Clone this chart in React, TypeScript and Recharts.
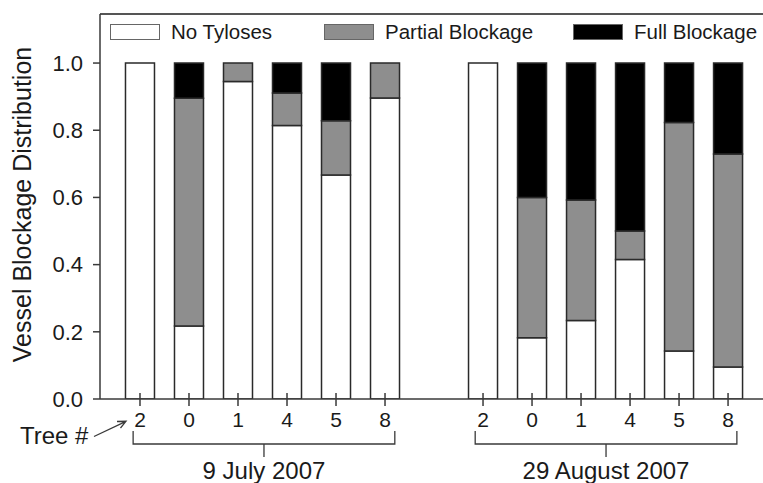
import React from 'react';
import { BarChart, Bar, XAxis, YAxis, ReferenceLine, Legend } from 'recharts';

// Tree numbers, in plotting order (two sampling dates, six trees each)
const treeNumbers = ['2', '0', '1', '4', '5', '8', '2', '0', '1', '4', '5', '8'];
// Slot of each bar on the numeric x axis (slot 7 left empty between dates)
const slotPositions = [1, 2, 3, 4, 5, 6, 8, 9, 10, 11, 12, 13];

// Fraction of vessels in each blockage class
const noTyloses = [1.0, 0.217, 0.945, 0.814, 0.667, 0.896, 1.0, 0.182, 0.234, 0.415, 0.143, 0.095];
const partialBlockage = [0, 0.678, 0.055, 0.097, 0.161, 0.104, 0, 0.418, 0.358, 0.085, 0.68, 0.634];
const fullBlockage = [0, 0.105, 0, 0.089, 0.172, 0, 0, 0.4, 0.408, 0.5, 0.177, 0.271];

// Sampling dates and the centre of each date's bracket on the x axis
const dateLabels = ['9 July 2007', '29 August 2007'];
const dateCenters = [3.53, 10.51];
const yTicks = [0, 0.2, 0.4, 0.6, 0.8, 1.0];

const data = slotPositions.map((pos, i) => ({
  pos,
  tree: treeNumbers[i],
  none: noTyloses[i],
  partial: partialBlockage[i],
  full: fullBlockage[i],
}));

const X_DOMAIN: [number, number] = [0.184, 14.06];
const Y_MAX = 1.146;
const BRACKET_HALF = 2.67;

const TREE_AXIS = 0;
const DATE_AXIS = 1;

const FONT = '"Liberation Sans", Arial, sans-serif';
const TEXT = '#1a1a1a';
const AXIS = '#3a3a3a';
const OUTLINE = '#2a2a2a';

const TreeTick = (props: any) => {
  const { x, y, payload, index } = props;
  const row = data.find((d) => d.pos === payload.value);
  return (
    <g>
      <line x1={x} x2={x} y1={y - 6} y2={y + 7} stroke={AXIS} strokeWidth={1.5} />
      <text x={x} y={y + 28} textAnchor="middle" fontSize={21} fill={TEXT} fontFamily={FONT}>
        {row ? row.tree : ''}
      </text>
      {index === 0 && (
        <g>
          <text x={x - 120} y={y + 45} fontSize={24} fill={TEXT} fontFamily={FONT}>
            Tree #
          </text>
          <path
            d={`M ${x - 46} ${y + 37.5} L ${x - 14} ${y + 22.3} M ${x - 23} ${y + 22.5} L ${x - 14} ${y + 22.3} L ${x - 19.5} ${y + 29}`}
            fill="none"
            stroke={AXIS}
            strokeWidth={1.3}
          />
        </g>
      )}
    </g>
  );
};

const DateTick = (props: any) => {
  const { x, y, index, width } = props;
  const pxPerUnit = (typeof width === 'number' && width > 0 ? width : 680) / (X_DOMAIN[1] - X_DOMAIN[0]);
  const half = BRACKET_HALF * pxPerUnit;
  return (
    <g>
      <path
        d={`M ${x - half} ${y - 8} L ${x - half} ${y + 5} L ${x + half} ${y + 5} L ${x + half} ${y - 8} M ${x} ${y + 5} L ${x} ${y + 18}`}
        fill="none"
        stroke={AXIS}
        strokeWidth={1.3}
      />
      <text x={x} y={y + 40} textAnchor="middle" fontSize={24} fill={TEXT} fontFamily={FONT}>
        {dateLabels[index]}
      </text>
    </g>
  );
};

const YTitle = (props: any) => {
  const vb = props.viewBox || { x: 0, y: 14, width: 100, height: 385 };
  const cx = vb.x + 22;
  const cy = vb.y + vb.height / 2 - 2;
  return (
    <text
      x={cx}
      y={cy}
      transform={`rotate(-90 ${cx} ${cy})`}
      textAnchor="middle"
      dominantBaseline="central"
      fontSize={25}
      fill={TEXT}
      fontFamily={FONT}
    >
      Vessel Blockage Distribution
    </text>
  );
};

const legendLeft: Record<string, number> = { none: 110, partial: 324, full: 573 };

const LegendContent = (props: any) => {
  const payload = props.payload || [];
  return (
    <div style={{ position: 'relative', width: 0, height: 0 }}>
      {payload.map((entry: any) => {
        const left = legendLeft[entry.dataKey] ?? 0;
        return (
          <React.Fragment key={entry.dataKey}>
            <div
              style={{
                position: 'absolute',
                left,
                top: 23.5,
                width: 49.5,
                height: 16.5,
                boxSizing: 'border-box',
                background: entry.color,
                border: '1.5px solid #666',
              }}
            />
            <span
              style={{
                position: 'absolute',
                left: left + 61,
                top: 22,
                whiteSpace: 'nowrap',
                fontFamily: FONT,
                fontSize: 20.5,
                lineHeight: 1,
                color: TEXT,
              }}
            >
              {entry.value}
            </span>
          </React.Fragment>
        );
      })}
    </div>
  );
};

export default function App() {
  return (
    <div style={{ position: 'absolute', left: 0, top: 0, width: 763, height: 483, overflow: 'hidden', background: '#fff' }}>
      <BarChart width={790} height={483} data={data} margin={{ top: 14, right: 10, bottom: 0, left: 0 }}>
        <YAxis
          width={100}
          type="number"
          domain={[0, Y_MAX]}
          ticks={yTicks}
          allowDataOverflow
          tickFormatter={(v: number) => v.toFixed(1)}
          tickSize={7}
          tickMargin={10}
          axisLine={{ stroke: AXIS, strokeWidth: 1.5 }}
          tickLine={{ stroke: AXIS, strokeWidth: 1.5 }}
          tick={{ fontSize: 22, fill: TEXT, fontFamily: FONT }}
          label={<YTitle />}
        />
        <XAxis
          xAxisId={TREE_AXIS}
          dataKey="pos"
          type="number"
          domain={X_DOMAIN}
          ticks={slotPositions}
          interval={0}
          allowDataOverflow
          height={40}
          tickSize={0}
          tickMargin={0}
          tickLine={false}
          axisLine={{ stroke: AXIS, strokeWidth: 1.5 }}
          tick={<TreeTick />}
        />
        <XAxis
          xAxisId={DATE_AXIS}
          dataKey="pos"
          type="number"
          domain={X_DOMAIN}
          ticks={dateCenters}
          interval={0}
          allowDataOverflow
          height={44}
          tickSize={0}
          tickMargin={0}
          tickLine={false}
          axisLine={false}
          tick={<DateTick />}
        />
        <ReferenceLine xAxisId={TREE_AXIS} y={Y_MAX} stroke="#555" strokeWidth={2} />
        <Legend
          content={<LegendContent />}
          wrapperStyle={{ position: 'absolute', top: 0, left: 0, width: 0, height: 0 }}
        />
        <Bar xAxisId={TREE_AXIS} dataKey="none" name="No Tyloses" stackId="s" fill="#ffffff" stroke={OUTLINE} strokeWidth={1.5} barSize={29} isAnimationActive={false} />
        <Bar xAxisId={TREE_AXIS} dataKey="partial" name="Partial Blockage" stackId="s" fill="#8e8e8e" stroke={OUTLINE} strokeWidth={1.5} barSize={29} isAnimationActive={false} />
        <Bar xAxisId={TREE_AXIS} dataKey="full" name="Full Blockage" stackId="s" fill="#000000" stroke={OUTLINE} strokeWidth={1.5} barSize={29} isAnimationActive={false} />
      </BarChart>
    </div>
  );
}
